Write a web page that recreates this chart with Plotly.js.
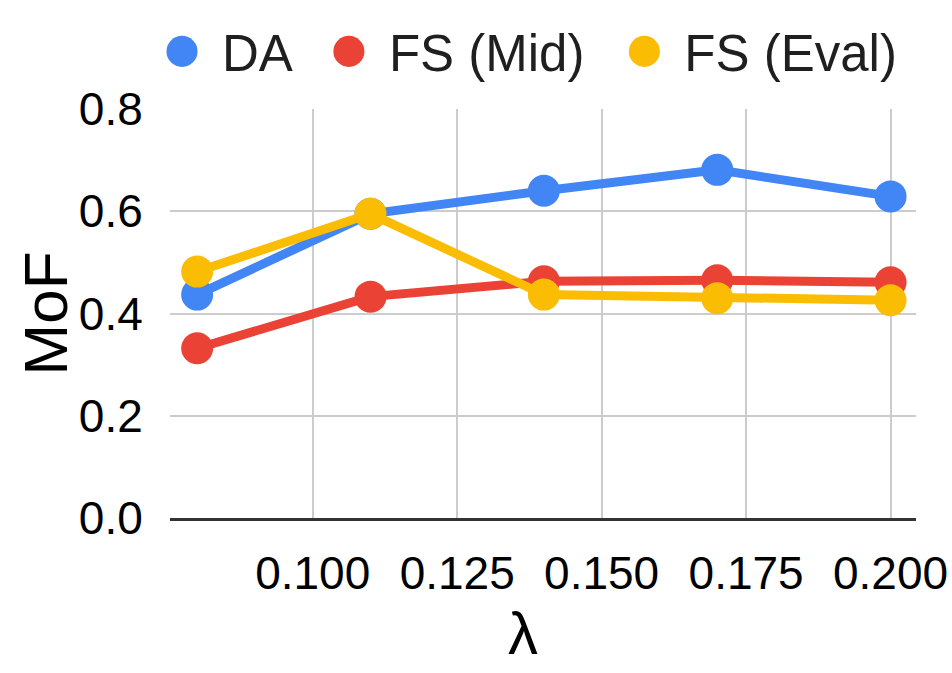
<!DOCTYPE html>
<html>
<head>
<meta charset="utf-8">
<script src="https://cdn.plot.ly/plotly-3.0.1.min.js"></script>
<style>
html,body{margin:0;padding:0;background:#fff;}
#chart{width:952px;height:673px;}
</style>
</head>
<body>
<div id="chart"></div>
<script>
// ---- data ----
const lambdaValues = [0.08, 0.11, 0.14, 0.17, 0.20];
const daValues      = [0.437, 0.595, 0.640, 0.681, 0.629];
const fsMidValues   = [0.332, 0.433, 0.463, 0.465, 0.461];
const fsEvalValues  = [0.482, 0.595, 0.437, 0.430, 0.426];
const seriesNames   = ['DA', 'FS (Mid)', 'FS (Eval)'];
const xTickValues   = [0.100, 0.125, 0.150, 0.175, 0.200];
const xTickLabels   = ['0.100', '0.125', '0.150', '0.175', '0.200'];
const yTickValues   = [0.0, 0.2, 0.4, 0.6, 0.8];
const yTickLabels   = ['0.0', '0.2', '0.4', '0.6', '0.8'];

const colors = ['#4285F4', '#EA4335', '#FBBC04'];
const FONT = 'Liberation Sans, Arial, Helvetica, sans-serif';

const seriesData = [daValues, fsMidValues, fsEvalValues];
const traces = [];
seriesData.forEach((vals, i) => {
  traces.push({
    x: lambdaValues, y: vals, type: 'scatter', mode: 'lines+markers',
    name: seriesNames[i], showlegend: false, legendgroup: seriesNames[i],
    line: {color: colors[i], width: 9},
    marker: {color: colors[i], size: 32},
    hoverinfo: 'x+y+name'
  });
});
// legend entries (markers only)
seriesData.forEach((vals, i) => {
  traces.push({
    x: lambdaValues, y: vals, type: 'scatter', mode: 'markers',
    name: seriesNames[i], showlegend: true, legendgroup: seriesNames[i],
    marker: {color: colors[i], size: 32, opacity: 0},
    hoverinfo: 'skip'
  });
});

const layout = {
  width: 952, height: 673,
  margin: {l: 170, r: 36, t: 109, b: 155},
  paper_bgcolor: '#ffffff', plot_bgcolor: '#ffffff',
  font: {family: FONT, color: '#000000', size: 46},
  showlegend: true,
  legend: {
    orientation: 'h', x: -0.0375, xanchor: 'left', y: 1.14, yanchor: 'middle',
    font: {family: FONT, size: 51, color: '#1f1f1f'},
    itemwidth: 70, bgcolor: 'rgba(0,0,0,0)'
  },
  xaxis: {
    range: [0.0753, 0.2044],
    tickvals: xTickValues, ticktext: xTickLabels,
    showgrid: true, gridcolor: '#cccccc', gridwidth: 2,
    zeroline: false, showline: true, linecolor: '#333333', linewidth: 3,
    ticks: 'outside', ticklen: 13, tickcolor: 'rgba(0,0,0,0)',
    tickfont: {family: FONT, size: 46, color: '#000000'},
    title: {text: 'λ', font: {family: FONT, size: 60, color: '#000000'}, standoff: 14},
    fixedrange: true
  },
  yaxis: {
    range: [0, 0.8],
    tickvals: yTickValues, ticktext: yTickLabels,
    showgrid: true, gridcolor: '#cccccc', gridwidth: 2,
    zeroline: false, showline: false,
    ticks: 'outside', ticklen: 17, tickcolor: 'rgba(0,0,0,0)',
    tickfont: {family: FONT, size: 46, color: '#000000'},
    title: {text: 'MoF', font: {family: FONT, size: 62, color: '#000000'}, standoff: 0},
    fixedrange: true
  }
};

// extra horizontal spacing between legend entries (px), matching the reference layout
const legendShift = [0, 11, 26];

Plotly.newPlot('chart', traces, layout, {displayModeBar: false, staticPlot: true}).then(() => {
  document.querySelectorAll('.legend .legendpoints path.scatterpts').forEach(p => {
    p.style.opacity = 1;
    const t = p.getAttribute('transform') || '';
    p.setAttribute('transform', t + ' scale(1.94)');
  });
  document.querySelectorAll('.legend g.traces').forEach((g, i) => {
    const t = g.getAttribute('transform') || '';
    const m = t.match(/translate\(\s*([-\d.]+)[ ,]+([-\d.]+)\s*\)/);
    if (m && legendShift[i] !== undefined) {
      g.setAttribute('transform', 'translate(' + (parseFloat(m[1]) + legendShift[i]) + ',' + m[2] + ')');
    }
  });
  document.querySelectorAll('.legend .scrollbox, .legend [clip-path]').forEach(el => el.removeAttribute('clip-path'));
  const yt = document.querySelector('.g-ytitle');
  if (yt) yt.setAttribute('transform', 'translate(9,0)');
  const xt = document.querySelector('.g-xtitle');
  if (xt) xt.setAttribute('transform', 'translate(-20,0)');
});
</script>
</body>
</html>
